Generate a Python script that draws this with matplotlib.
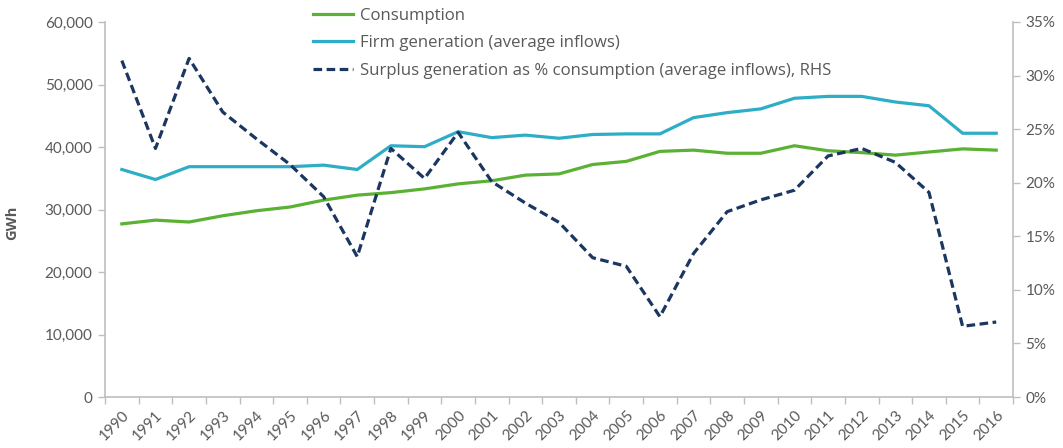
import matplotlib
matplotlib.use("Agg")
import matplotlib.pyplot as plt
from matplotlib.ticker import FuncFormatter, FixedLocator

years = [str(y) for y in range(1990, 2017)]

consumption = [27700, 28300, 28000, 29000, 29800, 30400, 31500, 32300, 32700, 33300,
               34100, 34600, 35500, 35700, 37200, 37700, 39300, 39500, 39000, 39000,
               40200, 39400, 39100, 38700, 39200, 39700, 39500]

firm_generation = [36400, 34800, 36850, 36850, 36850, 36850, 37100, 36400, 40200, 40050,
                   42450, 41500, 41900, 41400, 42000, 42100, 42100, 44700, 45500, 46100,
                   47800, 48100, 48100, 47200, 46600, 42200, 42200]

surplus_pct = [31.4, 23.2, 31.6, 26.6, 24.1, 21.7, 18.7, 13.1, 23.2, 20.4,
               24.7, 20.1, 18.1, 16.3, 13.0, 12.2, 7.5, 13.4, 17.3, 18.4,
               19.3, 22.5, 23.2, 21.9, 19.1, 6.6, 7.0]

labels = ["Consumption",
          "Firm generation (average inflows)",
          "Surplus generation as % consumption (average inflows), RHS"]

GREEN = "#5BB133"
CYAN = "#2EADC6"
NAVY = "#1B3660"
TXT = "#595959"
SPINE = "#BFBFBF"

plt.rcParams['font.family'] = ['Lato', 'DejaVu Sans']

fig = plt.figure(figsize=(10.63, 4.48), dpi=100)
ax = fig.add_axes([0.0988, 0.1138, 0.8542, 0.8371])
ax2 = ax.twinx()

x = list(range(len(years)))
l1, = ax.plot(x, consumption, color=GREEN, lw=2.3, zorder=3)
l2, = ax.plot(x, firm_generation, color=CYAN, lw=2.3, zorder=3)
l3, = ax2.plot(x, surplus_pct, color=NAVY, lw=2.3, linestyle=(0, (2.7, 1.4)), zorder=3)

ax.set_xlim(-0.5, len(years) - 0.5)
ax.set_ylim(0, 60000)
ax2.set_ylim(0, 35)

ax.set_yticks(range(0, 60001, 10000))
ax.yaxis.set_major_formatter(FuncFormatter(lambda v, p: f"{int(v):,}"))
ax2.set_yticks(range(0, 36, 5))
ax2.yaxis.set_major_formatter(FuncFormatter(lambda v, p: f"{int(v)}%"))

ax.set_xticks(x)
ax.set_xticklabels(years, rotation=45, ha='right', rotation_mode='anchor')
ax.xaxis.set_minor_locator(FixedLocator([i - 0.5 for i in range(len(years) + 1)]))
ax.tick_params(axis='x', which='major', length=0, pad=8, labelsize=11, labelcolor=TXT)
ax.tick_params(axis='x', which='minor', length=5, color=SPINE, width=1)
ax.tick_params(axis='y', length=5, color=SPINE, width=1, labelsize=11, labelcolor=TXT, pad=4)
ax2.tick_params(axis='y', length=5, color=SPINE, width=1, labelsize=11, labelcolor=TXT, pad=4)

for a in (ax, ax2):
    a.spines['top'].set_visible(False)
    for s in ('left', 'right', 'bottom'):
        a.spines[s].set_color(SPINE)
        a.spines[s].set_linewidth(1.2)
ax.spines['right'].set_visible(False)
ax2.spines['left'].set_visible(False)
ax2.spines['bottom'].set_visible(False)

ax.set_ylabel("GWh", fontsize=10.5, fontweight='bold', color=TXT,
              family=['Open Sans', 'DejaVu Sans'])
ax.yaxis.set_label_coords(-0.0947, 0.464)

fig.legend([l1, l2, l3], labels, loc='upper left', bbox_to_anchor=(0.288, 0.997),
           frameon=False, prop={'family': ['Open Sans', 'DejaVu Sans'], 'size': 12.1},
           handlelength=2.4, handletextpad=0.42,
           labelspacing=0.67, labelcolor=TXT, borderaxespad=0)

fig.savefig("out.png", dpi=100)
